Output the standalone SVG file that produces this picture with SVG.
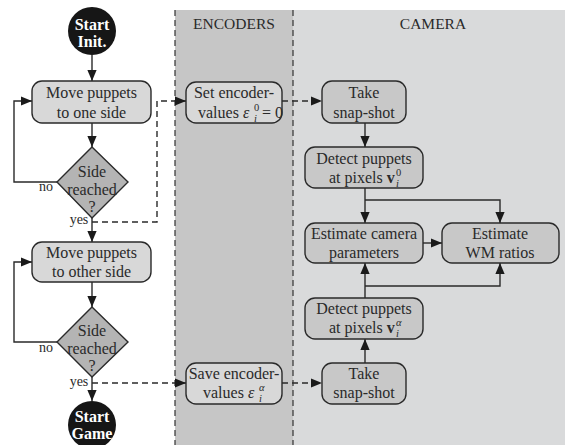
<svg xmlns="http://www.w3.org/2000/svg" width="565" height="445" viewBox="0 0 565 445">
<defs>
<marker id="ah" viewBox="0 0 10 10" refX="10" refY="5" markerWidth="11" markerHeight="11" markerUnits="userSpaceOnUse" orient="auto">
<path d="M0,0.8 L10,5 L0,9.2 Z" fill="#1a1a1a"/>
</marker>
<style>
text{font-family:"Liberation Serif","Times New Roman",serif;font-size:16px;fill:#2a2a2a;text-anchor:middle}
.lbl{font-size:14px}
.hdr{font-size:15.5px}
.wt{fill:#ffffff;font-weight:bold;font-size:16px}
.box{fill:#d8d8d8;stroke:#2a2a2a;stroke-width:1.4}
.cbox{fill:#c8c8c8;stroke:#2a2a2a;stroke-width:1.4}
.dia{fill:#b4b4b4;stroke:#2a2a2a;stroke-width:1.4}
.circ{fill:#161616}
.ln{fill:none;stroke:#2a2a2a;stroke-width:1.4}
.dl{fill:none;stroke:#2a2a2a;stroke-width:1.4;stroke-dasharray:6,4}
.sep{fill:none;stroke:#333;stroke-width:1.2;stroke-dasharray:6,4}
.it{font-style:italic}
.sm{font-size:10.5px}
</style>
</defs>
<g id="lanes">
<rect x="175" y="10" width="118" height="435" fill="#c6c6c6"/>
<rect x="293" y="10" width="272" height="435" fill="#d9dadb"/>
<line class="sep" x1="175" y1="10" x2="175" y2="445"/>
<line class="sep" x1="293" y1="10" x2="293" y2="445"/>
<text class="hdr" x="234" y="29">ENCODERS</text>
<text class="hdr" x="433" y="29">CAMERA</text>
</g>
<g id="connectors">
<line class="ln" x1="92" y1="55" x2="92" y2="81" marker-end="url(#ah)"/>
<line class="ln" x1="92" y1="123" x2="92" y2="147" marker-end="url(#ah)"/>
<polyline class="ln" points="57,182 14,182 14,101 32,101" marker-end="url(#ah)"/>
<line class="ln" x1="92" y1="218" x2="92" y2="242" marker-end="url(#ah)"/>
<polyline class="dl" points="92,222 157,222 157,101 186,101" marker-end="url(#ah)"/>
<line class="dl" x1="282" y1="101" x2="322" y2="101" marker-end="url(#ah)"/>
<line class="ln" x1="92" y1="282" x2="92" y2="307" marker-end="url(#ah)"/>
<polyline class="ln" points="57,342 14,342 14,262 32,262" marker-end="url(#ah)"/>
<line class="ln" x1="92" y1="377" x2="92" y2="401" marker-end="url(#ah)"/>
<polyline class="dl" points="92,383 186,383" marker-end="url(#ah)"/>
<line class="dl" x1="282" y1="383" x2="322" y2="383" marker-end="url(#ah)"/>
<line class="ln" x1="365" y1="123" x2="365" y2="147" marker-end="url(#ah)"/>
<line class="ln" x1="365" y1="188" x2="365" y2="223" marker-end="url(#ah)"/>
<polyline class="ln" points="365,200 500,200 500,223" marker-end="url(#ah)"/>
<line class="ln" x1="423" y1="243" x2="442" y2="243" marker-end="url(#ah)"/>
<line class="ln" x1="365" y1="298" x2="365" y2="263" marker-end="url(#ah)"/>
<polyline class="ln" points="365,286 500,286 500,263" marker-end="url(#ah)"/>
<line class="ln" x1="365" y1="363" x2="365" y2="339" marker-end="url(#ah)"/>
<text class="lbl" x="46" y="191">no</text>
<text class="lbl" x="79" y="224">yes</text>
<text class="lbl" x="46" y="352">no</text>
<text class="lbl" x="79" y="386">yes</text>
</g>
<g id="start-init">
<circle class="circ" cx="92" cy="31" r="24"/>
<text class="wt" x="92" y="30">Start</text>
<text class="wt" x="92" y="47">Init.</text>
</g>
<g id="move-one">
<rect class="box" x="32" y="81" width="119" height="42" rx="10"/>
<text x="91.5" y="98">Move puppets</text>
<text x="91.5" y="118">to one side</text>
</g>
<g id="side1">
<polygon class="dia" points="92,147 128,182 92,218 57,182"/>
<text x="92" y="177">Side</text>
<text x="92" y="195">reached</text>
<text x="92" y="212">?</text>
</g>
<g id="move-other">
<rect class="box" x="32" y="242" width="119" height="40" rx="10"/>
<text x="91.5" y="258">Move puppets</text>
<text x="91.5" y="277">to other side</text>
</g>
<g id="side2">
<polygon class="dia" points="92,307 128,342 92,377 57,342"/>
<text x="92" y="336">Side</text>
<text x="92" y="354">reached</text>
<text x="92" y="371">?</text>
</g>
<g id="start-game">
<circle class="circ" cx="92" cy="425" r="24"/>
<text class="wt" x="92" y="422">Start</text>
<text class="wt" x="92" y="439">Game</text>
</g>
<g id="set-enc">
<rect class="box" x="186" y="82" width="96" height="41" rx="10"/>
<text x="234" y="98">Set encoder-</text>
<text x="198" y="118" style="text-anchor:start">values <tspan class="it">ε</tspan></text>
<text class="sm it" x="254" y="122" style="text-anchor:start">i</text>
<text class="sm" x="254" y="111" style="text-anchor:start">0</text>
<text x="262" y="118" style="text-anchor:start">= 0</text>
</g>
<g id="save-enc">
<rect class="box" x="186" y="363" width="96" height="41" rx="10"/>
<text x="234" y="379">Save encoder-</text>
<text x="203" y="398" style="text-anchor:start">values <tspan class="it">ε</tspan></text>
<text class="sm it" x="259" y="402" style="text-anchor:start">i</text>
<text class="sm it" x="259" y="391" style="text-anchor:start">α</text>
</g>
<g id="snap1">
<rect class="cbox" x="322" y="81" width="84" height="42" rx="10"/>
<text x="364" y="98">Take</text>
<text x="364" y="118">snap-shot</text>
</g>
<g id="detect0">
<rect class="cbox" x="305" y="147" width="118" height="41" rx="10"/>
<text x="364" y="164">Detect puppets</text>
<text x="329" y="183" style="text-anchor:start">at pixels <tspan font-weight="bold">v</tspan></text>
<text class="sm it" x="396" y="187" style="text-anchor:start">i</text>
<text class="sm" x="396" y="176" style="text-anchor:start">0</text>
</g>
<g id="est-cam">
<rect class="cbox" x="305" y="223" width="118" height="40" rx="10"/>
<text x="364" y="239">Estimate camera</text>
<text x="364" y="258">parameters</text>
</g>
<g id="est-wm">
<rect class="cbox" x="442" y="223" width="117" height="40" rx="10"/>
<text x="500" y="239">Estimate</text>
<text x="500" y="258">WM ratios</text>
</g>
<g id="detect-a">
<rect class="cbox" x="305" y="298" width="118" height="41" rx="10"/>
<text x="364" y="314">Detect puppets</text>
<text x="329" y="333" style="text-anchor:start">at pixels <tspan font-weight="bold">v</tspan></text>
<text class="sm it" x="396" y="337" style="text-anchor:start">i</text>
<text class="sm it" x="396" y="326" style="text-anchor:start">α</text>
</g>
<g id="snap2">
<rect class="cbox" x="322" y="363" width="84" height="41" rx="10"/>
<text x="364" y="379">Take</text>
<text x="364" y="398">snap-shot</text>
</g>
</svg>
